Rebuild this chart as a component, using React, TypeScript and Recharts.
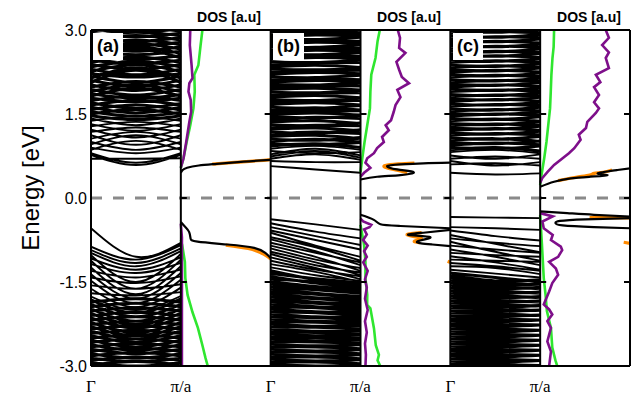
import { ComposedChart, Line, XAxis, YAxis, ReferenceLine } from "recharts";

// k-points sampled along every band: Γ, half-way, π/a
const kPath = [0, 0.5, 1];
const kLabels = ["Γ", "π/a", "Γ", "π/a", "Γ", "π/a"];
const energyTicks = [3, 1.5, 0, -1.5, -3];

const GREEN = "#2fe62f";
const PURPLE = "#7e0f8a";
const ORANGE = "#ff8a00";

// ---------- (a) bands [E(Γ), E(π/2a), E(π/a)] ----------
const condA = [
  [0.7, 0.7, 0.71], [0.77, 0.59, 0.77], [0.8, 0.63, 0.8], [0.86, 1.02, 0.86],
  [0.9, 0.8, 0.9], [0.96, 1.12, 0.96], [1.0, 0.86, 1.0], [1.06, 1.18, 1.06],
  [1.12, 0.95, 1.12], [1.18, 1.26, 1.18], [1.22, 1.08, 1.22], [1.28, 1.36, 1.28],
  [1.32, 1.2, 1.32], [1.38, 1.46, 1.38], [1.42, 1.3, 1.42],
];
const condDenseA = [
  [1.47, 1.4, 1.47], [1.5, 1.58, 1.5], [1.54, 1.46, 1.53], [1.58, 1.66, 1.57],
  [1.62, 1.52, 1.62], [1.66, 1.74, 1.66], [1.7, 1.6, 1.69], [1.74, 1.82, 1.74],
  [1.78, 1.72, 1.78], [1.82, 1.96, 1.82], [1.86, 1.78, 1.85], [1.9, 2.02, 1.9],
  [1.94, 1.84, 1.94], [1.98, 2.08, 1.98], [2.02, 1.92, 2.02], [2.06, 2.28, 2.06],
  [2.1, 2.0, 2.1], [2.14, 2.32, 2.14], [2.18, 2.06, 2.18], [2.22, 2.16, 2.22],
  [2.26, 2.38, 2.26], [2.3, 2.2, 2.3], [2.34, 2.44, 2.34], [2.38, 2.3, 2.38],
  [2.42, 2.52, 2.42], [2.46, 2.4, 2.46], [2.5, 2.66, 2.5], [2.54, 2.48, 2.54],
  [2.58, 2.7, 2.58], [2.62, 2.56, 2.62], [2.66, 2.76, 2.66], [2.7, 2.62, 2.7],
  [2.74, 2.82, 2.74], [2.78, 2.72, 2.78], [2.82, 2.9, 2.82], [2.86, 2.8, 2.86],
  [2.9, 2.96, 2.9], [2.94, 2.88, 2.94], [2.98, 3.04, 2.98], [3.02, 2.96, 3.02],
];
const valA = [
  [-0.54, -1.05, -0.8], [-0.87, -1.1, -0.84], [-0.93, -1.16, -0.9], [-0.98, -1.22, -0.95],
  [-1.02, -1.5, -1.0], [-1.08, -1.28, -1.06], [-1.12, -1.62, -1.1], [-1.18, -1.34, -1.16],
  [-1.24, -1.72, -1.22], [-1.3, -1.42, -1.28], [-1.36, -1.8, -1.34], [-1.42, -1.52, -1.4],
  [-1.48, -1.88, -1.46], [-1.56, -1.62, -1.54], [-1.62, -1.95, -1.6], [-1.7, -1.74, -1.68],
  [-1.76, -2.0, -1.75],
];
const valDenseA = [
  [-1.82, -2.05, -1.8], [-1.86, -1.8, -1.86], [-1.9, -2.12, -1.9], [-1.94, -1.88, -1.94],
  [-1.98, -2.2, -1.98], [-2.02, -1.96, -2.02], [-2.06, -2.26, -2.06], [-2.1, -2.04, -2.1],
  [-2.14, -2.32, -2.14], [-2.18, -2.12, -2.18], [-2.22, -2.4, -2.22], [-2.26, -2.2, -2.26],
  [-2.3, -2.46, -2.3], [-2.34, -2.28, -2.34], [-2.38, -2.52, -2.38], [-2.42, -2.36, -2.42],
  [-2.46, -2.58, -2.46], [-2.5, -2.44, -2.5], [-2.54, -2.66, -2.54], [-2.58, -2.52, -2.58],
  [-2.62, -2.72, -2.62], [-2.66, -2.6, -2.66], [-2.7, -2.78, -2.7], [-2.74, -2.68, -2.74],
  [-2.78, -2.86, -2.78], [-2.82, -2.76, -2.82], [-2.86, -2.92, -2.86], [-2.9, -2.84, -2.9],
  [-2.94, -3.0, -2.94], [-2.98, -2.92, -2.98], [-3.02, -3.06, -3.02],
];

// ---------- (b) bands ----------
const condB = [
  [0.57, 0.51, 0.45], [0.66, 0.64, 0.64], [0.7, 0.78, 0.68], [0.74, 0.84, 0.72],
  [0.78, 0.88, 0.76], [0.84, 0.8, 0.82], [0.88, 0.93, 0.86],
];
const condDenseB = [
  [0.93, 0.97, 0.9], [0.97, 0.95, 0.99], [1.01, 1.05, 1.0], [1.05, 1.03, 1.08],
  [1.1, 1.12, 1.06], [1.14, 1.18, 1.15], [1.18, 1.16, 1.22], [1.23, 1.25, 1.2],
  [1.27, 1.3, 1.29], [1.31, 1.29, 1.34], [1.36, 1.38, 1.33], [1.4, 1.44, 1.42],
  [1.45, 1.43, 1.47], [1.49, 1.52, 1.48], [1.54, 1.55, 1.56], [1.58, 1.61, 1.57],
  [1.62, 1.6, 1.65], [1.67, 1.7, 1.66], [1.71, 1.73, 1.74], [1.76, 1.74, 1.78],
  [1.8, 1.83, 1.79], [1.85, 1.87, 1.88], [1.89, 1.88, 1.92], [1.94, 1.96, 1.93],
  [1.98, 2.01, 2.0], [2.03, 2.02, 2.06], [2.07, 2.1, 2.08], [2.12, 2.14, 2.11],
  [2.16, 2.15, 2.19], [2.21, 2.24, 2.22], [2.25, 2.27, 2.28], [2.3, 2.29, 2.31],
  [2.34, 2.37, 2.33], [2.39, 2.41, 2.42], [2.43, 2.42, 2.46], [2.48, 2.51, 2.49],
  [2.52, 2.54, 2.53], [2.57, 2.56, 2.6], [2.61, 2.64, 2.62], [2.66, 2.68, 2.67],
  [2.7, 2.69, 2.73], [2.75, 2.78, 2.76], [2.79, 2.81, 2.8], [2.84, 2.83, 2.87],
  [2.88, 2.91, 2.89], [2.93, 2.95, 2.94], [2.97, 2.96, 3.0], [3.02, 3.04, 3.03],
];
const valB = [
  [-0.38, -0.47, -0.57], [-0.45, -0.6, -0.72], [-0.52, -0.68, -0.84], [-0.58, -0.75, -0.92],
  [-0.62, -0.85, -1.05], [-0.7, -0.88, -1.12], [-0.74, -0.95, -1.2], [-0.8, -0.98, -1.15],
  [-0.85, -1.05, -1.3], [-0.9, -1.1, -1.25], [-0.96, -1.15, -1.38], [-1.0, -1.2, -1.33],
  [-1.06, -1.25, -1.45], [-1.12, -1.28, -1.4], [-1.18, -1.32, -1.5], [-1.24, -1.38, -1.48],
];
const valDenseB = [
  [-1.3, -1.46, -1.56], [-1.35, -1.44, -1.52], [-1.4, -1.52, -1.6], [-1.44, -1.5, -1.58],
  [-1.49, -1.58, -1.64], [-1.53, -1.6, -1.68], [-1.58, -1.64, -1.7], [-1.62, -1.7, -1.76],
  [-1.67, -1.72, -1.78], [-1.71, -1.78, -1.82], [-1.76, -1.8, -1.86], [-1.8, -1.86, -1.9],
  [-1.85, -1.88, -1.94], [-1.89, -1.94, -1.97], [-1.94, -1.96, -2.02], [-1.98, -2.03, -2.05],
  [-2.03, -2.05, -2.1], [-2.07, -2.12, -2.13], [-2.12, -2.14, -2.18], [-2.16, -2.2, -2.21],
  [-2.21, -2.22, -2.26], [-2.25, -2.29, -2.28], [-2.3, -2.31, -2.34], [-2.34, -2.38, -2.37],
  [-2.39, -2.4, -2.42], [-2.43, -2.46, -2.45], [-2.48, -2.49, -2.51], [-2.52, -2.55, -2.54],
  [-2.57, -2.57, -2.6], [-2.61, -2.64, -2.62], [-2.66, -2.66, -2.69], [-2.7, -2.73, -2.71],
  [-2.75, -2.75, -2.78], [-2.79, -2.82, -2.8], [-2.84, -2.84, -2.87], [-2.88, -2.91, -2.89],
  [-2.93, -2.93, -2.96], [-2.97, -3.0, -2.98], [-3.02, -3.02, -3.04],
];

// ---------- (c) bands ----------
const condC = [
  [0.45, 0.42, 0.44], [0.6, 0.62, 0.58], [0.66, 0.58, 0.64], [0.7, 0.74, 0.7],
  [0.76, 0.7, 0.78], [0.82, 0.86, 0.8],
];
const condDenseC = [
  [0.86, 0.9, 0.84], [0.9, 0.88, 0.93], [0.94, 0.98, 0.95], [0.99, 0.97, 1.02],
  [1.03, 1.06, 1.01], [1.07, 1.05, 1.1], [1.12, 1.15, 1.13], [1.16, 1.14, 1.19],
  [1.2, 1.24, 1.21], [1.25, 1.23, 1.28], [1.29, 1.32, 1.3], [1.33, 1.31, 1.36],
  [1.38, 1.41, 1.37], [1.42, 1.4, 1.45], [1.46, 1.5, 1.48], [1.51, 1.49, 1.53],
  [1.55, 1.58, 1.56], [1.59, 1.57, 1.62], [1.64, 1.67, 1.65], [1.68, 1.66, 1.71],
  [1.72, 1.76, 1.73], [1.77, 1.75, 1.8], [1.81, 1.84, 1.82], [1.85, 1.83, 1.88],
  [1.9, 1.93, 1.91], [1.94, 1.92, 1.97], [1.98, 2.02, 1.99], [2.03, 2.01, 2.06],
  [2.07, 2.1, 2.08], [2.11, 2.09, 2.14], [2.16, 2.19, 2.17], [2.2, 2.18, 2.23],
  [2.24, 2.28, 2.25], [2.29, 2.27, 2.32], [2.33, 2.36, 2.34], [2.37, 2.35, 2.4],
  [2.42, 2.45, 2.43], [2.46, 2.44, 2.49], [2.5, 2.54, 2.51], [2.55, 2.53, 2.58],
  [2.59, 2.62, 2.6], [2.63, 2.61, 2.66], [2.68, 2.71, 2.69], [2.72, 2.7, 2.75],
  [2.76, 2.8, 2.77], [2.81, 2.79, 2.84], [2.85, 2.88, 2.86], [2.89, 2.87, 2.92],
  [2.94, 2.97, 2.95], [2.98, 2.96, 3.01], [3.02, 3.05, 3.03],
];
const valC = [
  [-0.34, -0.35, -0.36], [-0.52, -0.54, -0.57], [-0.58, -0.68, -0.76], [-0.66, -0.82, -0.97],
  [-0.72, -0.8, -0.86], [-0.78, -0.96, -1.12], [-0.85, -0.92, -0.98], [-0.92, -1.05, -1.2],
  [-0.98, -1.02, -1.05], [-1.04, -1.15, -1.28], [-1.1, -1.12, -1.14], [-1.16, -1.22, -1.3],
  [-1.22, -1.25, -1.36], [-1.28, -1.35, -1.42],
];
const valDenseC = [
  [-1.34, -1.42, -1.5], [-1.38, -1.48, -1.46], [-1.43, -1.5, -1.56], [-1.47, -1.55, -1.54],
  [-1.52, -1.58, -1.62], [-1.56, -1.62, -1.6], [-1.61, -1.66, -1.7], [-1.65, -1.7, -1.68],
  [-1.7, -1.74, -1.78], [-1.74, -1.78, -1.76], [-1.79, -1.82, -1.86], [-1.83, -1.86, -1.84],
  [-1.88, -1.9, -1.93], [-1.92, -1.95, -1.92], [-1.97, -1.98, -2.01], [-2.01, -2.03, -2.0],
  [-2.06, -2.07, -2.1], [-2.1, -2.12, -2.09], [-2.15, -2.16, -2.18], [-2.19, -2.21, -2.18],
  [-2.24, -2.25, -2.27], [-2.28, -2.3, -2.27], [-2.33, -2.34, -2.36], [-2.37, -2.39, -2.36],
  [-2.42, -2.43, -2.45], [-2.46, -2.48, -2.45], [-2.51, -2.52, -2.54], [-2.55, -2.57, -2.54],
  [-2.6, -2.61, -2.63], [-2.64, -2.66, -2.63], [-2.69, -2.7, -2.72], [-2.73, -2.75, -2.72],
  [-2.78, -2.79, -2.81], [-2.82, -2.84, -2.81], [-2.87, -2.88, -2.9], [-2.91, -2.93, -2.9],
  [-2.96, -2.97, -2.99], [-3.0, -3.02, -3.0],
];

// ---------- DOS curves, [energy, DOS (0..1 of the panel width)] ----------
const greenUpA = [[3.0, 0.24], [2.73, 0.22], [2.37, 0.195], [2.2, 0.15], [1.9, 0.155], [1.6, 0.14], [1.3, 0.105], [1.0, 0.065], [0.71, 0.03], [0.54, 0.0]];
const purpleUpA = [[3.0, 0.105], [2.73, 0.1], [2.37, 0.12], [2.14, 0.13], [2.05, 0.095], [1.9, 0.085], [1.75, 0.11], [1.54, 0.115], [1.36, 0.095], [1.0, 0.06], [0.71, 0.03], [0.54, 0.0]];
const greenLoA = [[-0.75, 0.0], [-0.84, 0.015], [-1.14, 0.045], [-1.43, 0.05], [-1.73, 0.075], [-2.04, 0.13], [-2.32, 0.19], [-2.63, 0.24], [-2.86, 0.275], [-3.0, 0.3]];
const purpleLoA = [[-0.46, 0.0], [-0.7, 0.012], [-1.5, 0.012], [-3.0, 0.012]];
const stateUpA = [[0.45, 0.0], [0.5, 0.02], [0.54, 0.07], [0.58, 0.2], [0.61, 0.4], [0.65, 0.7], [0.68, 1.0]];
const orangeUpA = [[0.605, 0.35], [0.635, 0.6], [0.665, 0.85], [0.686, 1.0]];
const stateLoA = [[-0.43, 0.0], [-0.52, 0.05], [-0.61, 0.093], [-0.72, 0.108], [-0.78, 0.186], [-0.83, 0.52], [-0.89, 0.816], [-0.98, 0.94], [-1.07, 1.0]];
const orangeLoA = [[-0.84, 0.5], [-0.9, 0.75], [-0.97, 0.88], [-1.03, 0.95], [-1.09, 1.0]];

const greenUpB = [[3.0, 0.215], [2.8, 0.19], [2.5, 0.167], [2.2, 0.12], [1.9, 0.11], [1.6, 0.105], [1.3, 0.075], [1.0, 0.045], [0.71, 0.02], [0.46, 0.0]];
const purpleUpB = [[3.0, 0.415], [2.86, 0.44], [2.68, 0.43], [2.59, 0.5], [2.43, 0.4], [2.29, 0.43], [2.16, 0.46], [2.05, 0.54], [1.93, 0.41], [1.8, 0.445], [1.66, 0.39], [1.54, 0.37], [1.39, 0.34], [1.3, 0.28], [1.21, 0.315], [1.09, 0.24], [1.0, 0.26], [0.89, 0.185], [0.8, 0.15], [0.71, 0.075], [0.63, 0.055], [0.54, 0.11], [0.45, 0.04], [0.38, 0.0]];
const stateUpB = [[0.33, 0.0], [0.38, 0.185], [0.41, 0.444], [0.46, 0.593], [0.51, 0.408], [0.57, 0.297], [0.6, 0.444], [0.62, 0.7], [0.63, 1.0]];
const orangeUpB = [[0.45, 0.52], [0.49, 0.42], [0.54, 0.29], [0.58, 0.275], [0.61, 0.42], [0.625, 0.6]];
const greenLoB = [[-0.48, 0.0], [-0.84, 0.04], [-1.14, 0.055], [-1.43, 0.055], [-1.73, 0.075], [-1.91, 0.074], [-1.97, 0.11], [-2.33, 0.15], [-2.63, 0.17], [-2.8, 0.205], [-2.9, 0.19], [-3.0, 0.22]];
const purpleLoB = [[-0.37, 0.0], [-0.42, 0.03], [-0.48, 0.12], [-0.52, 0.1], [-0.56, 0.04], [-0.65, 0.07], [-0.75, 0.03], [-0.85, 0.08], [-0.95, 0.04], [-1.05, 0.07], [-1.15, 0.03], [-1.3, 0.08], [-1.45, 0.05], [-1.6, 0.07], [-1.8, 0.05], [-2.0, 0.08], [-2.2, 0.05], [-2.4, 0.07], [-2.6, 0.05], [-2.8, 0.06], [-3.0, 0.055]];
const stateLoB1 = [[-0.3, 0.0], [-0.39, 0.149], [-0.47, 0.222], [-0.5, 0.444], [-0.54, 1.0]];
const stateLoB2 = [[-0.57, 1.0], [-0.62, 0.7], [-0.66, 0.538], [-0.7, 0.778], [-0.78, 0.63], [-0.83, 0.8], [-0.86, 1.0]];
const orangeLoB = [[-0.62, 0.68], [-0.65, 0.52], [-0.69, 0.6], [-0.73, 0.68], [-0.77, 0.6], [-0.8, 0.66]];
const orangeTailB = [[-1.13, 0.97], [-1.15, 1.0]];

const greenUpC = [[3.0, 0.155], [2.7, 0.15], [2.5, 0.137], [2.2, 0.125], [1.9, 0.118], [1.6, 0.11], [1.3, 0.09], [1.0, 0.07], [0.71, 0.045], [0.36, 0.01], [0.23, 0.0]];
const purpleUpC = [[3.0, 0.73], [2.86, 0.765], [2.73, 0.69], [2.6, 0.765], [2.5, 0.73], [2.32, 0.765], [2.2, 0.62], [2.07, 0.67], [1.98, 0.6], [1.84, 0.655], [1.71, 0.6], [1.6, 0.655], [1.52, 0.62], [1.36, 0.525], [1.25, 0.51], [1.13, 0.43], [1.04, 0.45], [0.89, 0.38], [0.8, 0.32], [0.71, 0.25], [0.59, 0.155], [0.46, 0.08], [0.36, 0.025], [0.27, 0.0]];
const stateUpC = [[0.2, 0.0], [0.29, 0.155], [0.35, 0.34], [0.38, 0.56], [0.41, 0.75], [0.44, 0.64], [0.5, 0.86], [0.53, 1.0]];
const orangeUpC = [[0.31, 0.2], [0.37, 0.4], [0.41, 0.55], [0.44, 0.6], [0.46, 0.7], [0.5, 0.8]];
const greenLoC = [[-0.3, 0.0], [-0.84, 0.02], [-1.43, 0.04], [-1.73, 0.06], [-2.02, 0.075], [-2.32, 0.12], [-2.67, 0.135], [-2.9, 0.17], [-3.0, 0.19]];
const purpleLoC = [[-0.27, 0.0], [-0.33, 0.14], [-0.42, 0.025], [-0.54, 0.04], [-0.66, 0.14], [-0.75, 0.12], [-0.87, 0.23], [-0.93, 0.245], [-1.05, 0.2], [-1.14, 0.1], [-1.26, 0.175], [-1.37, 0.2], [-1.52, 0.135], [-1.67, 0.1], [-1.9, 0.04], [-1.99, 0.1], [-2.08, 0.135], [-2.2, 0.08], [-2.32, 0.12], [-2.56, 0.08], [-2.74, 0.12], [-3.0, 0.1]];
const stateLoC1 = [[-0.24, 0.0], [-0.27, 0.3], [-0.3, 0.6], [-0.33, 1.0]];
const stateLoC2 = [[-0.36, 1.0], [-0.38, 0.5], [-0.41, 0.22], [-0.45, 0.17], [-0.49, 0.25], [-0.52, 0.6], [-0.54, 1.0]];
const orangeLoC = [[-0.35, 0.55], [-0.352, 0.75], [-0.355, 1.0]];
const orangeTailC = [[-0.79, 0.93], [-0.81, 1.0]];

type Row = { x: number; y: number | null };

// bands of panel i live on x in [2i, 2i+1], its DOS on [2i+1, 2i+2]
const bandRows = (bands: number[][], panel: number): Row[] => {
  const rows: Row[] = [];
  bands.forEach((b) => {
    b.forEach((e, j) => rows.push({ x: panel * 2 + kPath[j], y: e }));
    rows.push({ x: panel * 2 + 1, y: null });
  });
  return rows;
};
const dosRows = (pts: number[][], panel: number): Row[] =>
  pts.map(([e, d]) => ({ x: panel * 2 + 1 + d, y: e }));

const panels = [
  {
    near: [...condA, ...valA],
    dense: [...condDenseA, ...valDenseA],
    orange: [orangeUpA, orangeLoA],
    curves: [[greenUpA, GREEN], [purpleUpA, PURPLE], [greenLoA, GREEN], [purpleLoA, PURPLE]],
    states: [stateUpA, stateLoA],
  },
  {
    near: [...condB, ...valB],
    dense: [...condDenseB, ...valDenseB],
    orange: [orangeUpB, orangeLoB, orangeTailB],
    curves: [[greenUpB, GREEN], [purpleUpB, PURPLE], [greenLoB, GREEN], [purpleLoB, PURPLE]],
    states: [stateUpB, stateLoB1, stateLoB2],
  },
  {
    near: [...condC, ...valC],
    dense: [...condDenseC, ...valDenseC],
    orange: [orangeUpC, orangeLoC, orangeTailC],
    curves: [[greenUpC, GREEN], [purpleUpC, PURPLE], [greenLoC, GREEN], [purpleLoC, PURPLE]],
    states: [stateUpC, stateLoC1, stateLoC2],
  },
];

const sans = "'Liberation Sans', Arial, sans-serif";
const serif = "'Liberation Serif', 'Times New Roman', serif";

const XTick = (props: any) => (
  <text x={props.x} y={392} textAnchor="middle" fontFamily={serif} fontSize={17} fill="#000">
    {kLabels[props.payload.value]}
  </text>
);

const lineProps = { dataKey: "y", dot: false, activeDot: false, isAnimationActive: false } as const;

export default function App() {
  const tickMarks: JSX.Element[] = [];
  [0, 1, 2].forEach((i) =>
    [1.5, 0, -1.5].forEach((y) => {
      tickMarks.push(
        <ReferenceLine key={`l${i}${y}`} segment={[{ x: 2 * i + 1, y }, { x: 2 * i + 1.067, y }]} stroke="#000" strokeWidth={2} />,
        <ReferenceLine key={`r${i}${y}`} segment={[{ x: 2 * i + 1.933, y }, { x: 2 * i + 2, y }]} stroke="#000" strokeWidth={2} />
      );
    })
  );

  return (
    <div style={{ position: "absolute", left: 0, top: 0, width: 631, height: 395, background: "#fff" }}>
      <ComposedChart width={631} height={395} margin={{ top: 30, right: 1, bottom: 0, left: 0 }}>
        <XAxis
          type="number"
          dataKey="x"
          domain={[0, 6]}
          ticks={[0, 1, 2, 3, 4, 5]}
          interval={0}
          allowDataOverflow
          axisLine={false}
          tickLine={false}
          height={29}
          tick={(p: any) => <XTick {...p} />}
        />
        <YAxis
          type="number"
          domain={[-3, 3]}
          ticks={energyTicks}
          allowDataOverflow
          axisLine={false}
          tickLine={false}
          tickSize={2}
          tickMargin={2}
          width={91}
          tickFormatter={(v: number) => v.toFixed(1)}
          tick={{ fontSize: 16, fill: "#000", fontFamily: sans }}
        />
        <ReferenceLine y={0} stroke="#8a8a8a" strokeWidth={3} strokeDasharray="11 11" />

        {panels.map((p, i) => (
          <>
            <Line key={`dense${i}`} {...lineProps} data={bandRows(p.dense, i)} type="natural" stroke="#000" strokeWidth={3} />
            <Line key={`near${i}`} {...lineProps} data={bandRows(p.near, i)} type="natural" stroke="#000" strokeWidth={1.9} />
            {p.curves.map(([pts, color], j) => (
              <Line key={`dos${i}-${j}`} {...lineProps} data={dosRows(pts as number[][], i)} type="linear" stroke={color as string} strokeWidth={2.6} />
            ))}
            {p.orange.map((pts, j) => (
              <Line key={`or${i}-${j}`} {...lineProps} data={dosRows(pts, i)} type="natural" stroke={ORANGE} strokeWidth={3.2} />
            ))}
            {p.states.map((pts, j) => (
              <Line key={`st${i}-${j}`} {...lineProps} data={dosRows(pts, i)} type="natural" stroke="#000" strokeWidth={2.2} />
            ))}
          </>
        ))}

        {[0, 1, 2, 3, 4, 5, 6].map((x) => (
          <ReferenceLine key={`v${x}`} x={x} stroke="#000" strokeWidth={2} />
        ))}
        <ReferenceLine y={3} stroke="#000" strokeWidth={2} />
        <ReferenceLine y={-3} stroke="#000" strokeWidth={2} />
        {tickMarks}
      </ComposedChart>

      <div
        style={{
          position: "absolute", left: 31, top: 188, transform: "translate(-50%, -50%) rotate(-90deg)",
          whiteSpace: "nowrap", fontFamily: sans, fontSize: 24, lineHeight: 1, color: "#000",
        }}
      >
        Energy [eV]
      </div>
      {[229, 409, 589].map((cx) => (
        <div
          key={cx}
          style={{
            position: "absolute", left: cx, top: 8, transform: "translateX(-50%)", whiteSpace: "nowrap",
            fontFamily: sans, fontWeight: "bold", fontSize: 14, lineHeight: "18px", color: "#000",
          }}
        >
          DOS [a.u]
        </div>
      ))}
      {[["(a)", 93], ["(b)", 273], ["(c)", 453]].map(([t, left]) => (
        <div
          key={t as string}
          style={{
            position: "absolute", left: left as number, top: 33, height: 27, padding: "0 4px", background: "#fff",
            fontFamily: sans, fontWeight: "bold", fontSize: 18, lineHeight: "27px", color: "#000",
          }}
        >
          {t}
        </div>
      ))}
    </div>
  );
}
